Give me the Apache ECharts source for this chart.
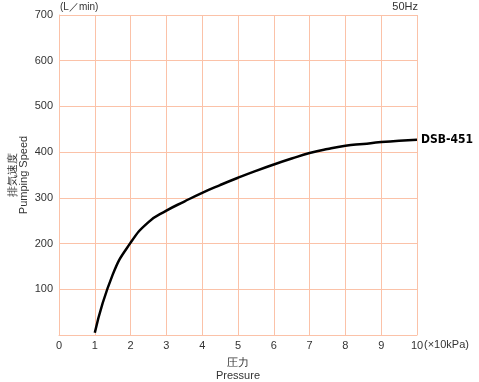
<!DOCTYPE html>
<html><head><meta charset="utf-8">
<script src="https://cdn.jsdelivr.net/npm/echarts@6/dist/echarts.min.js"></script>
<style>html,body{margin:0;padding:0;background:#fff}#c{width:479px;height:382px}</style>
</head><body><div id="c"></div>
<script>
const pressure = [1, 1.5, 2, 2.5, 3, 3.5, 4, 4.5, 5, 5.5, 6, 6.5, 7, 7.5, 8, 8.5, 9, 9.5, 10];
const speed = [5, 132, 202, 247, 272, 292, 311, 328, 344, 359, 373, 386, 398, 407, 414, 418, 422, 425, 427];
const seriesName = 'DSB-451';
const xTicks = [0,1,2,3,4,5,6,7,8,9,10];
const yTicks = [100,200,300,400,500,600,700];

const gridColor = '#fbc2a8';
const font = 'Liberation Sans, Arial, sans-serif';
const chart = echarts.init(document.getElementById('c'), null, {renderer:'canvas'});
chart.setOption({
  animation:false,
  backgroundColor:'#fff',
  grid:{left:59,right:62,top:15,bottom:47,containLabel:false,outerBoundsMode:'none'},
  xAxis:{type:'value',min:0,max:10,interval:1,
    axisLine:{show:true,lineStyle:{color:gridColor,width:1}},
    axisTick:{show:false},
    splitLine:{show:true,lineStyle:{color:gridColor,width:1}},
    axisLabel:{color:'#333',fontSize:11,fontFamily:font,margin:5},
    name:'圧力\nPressure',nameLocation:'middle',nameGap:21,nameMoveOverlap:false,
    nameTextStyle:{color:'#333',fontSize:11,fontFamily:font,lineHeight:13}
  },
  yAxis:{type:'value',min:0,max:700,interval:100,
    axisLine:{show:true,lineStyle:{color:gridColor,width:1}},
    axisTick:{show:false},
    splitLine:{show:true,lineStyle:{color:gridColor,width:1}},
    axisLabel:{color:'#333',fontSize:11,fontFamily:font,margin:6,formatter:v=>v===0?'':String(v)},
    name:'排気速度\nPumping Speed',nameLocation:'middle',nameGap:30,nameRotate:90,nameMoveOverlap:false,
    nameTextStyle:{color:'#333',fontSize:11,fontFamily:font,lineHeight:11}
  },
  graphic:[
    {type:'text',left:60,top:2,style:{text:'(L／min)',fill:'#333',font:'10px '+font}},
    {type:'text',right:61,top:1,style:{text:'50Hz',fill:'#333',font:'11px '+font}},
    {type:'text',left:424,top:339,style:{text:'(×10kPa)',fill:'#333',font:'11px '+font}}
  ],
  series:[{name:seriesName,type:'line',smooth:0.5,symbol:'none',
    data:pressure.map((p,i)=>[p,speed[i]]),
    lineStyle:{color:'#000',width:2.5},
    endLabel:{show:true,formatter:seriesName,color:'#000',fontWeight:'bold',fontSize:12,fontFamily:'DejaVu Sans Condensed, Liberation Sans Narrow, sans-serif',distance:4}
  }]
});
</script></body></html>
